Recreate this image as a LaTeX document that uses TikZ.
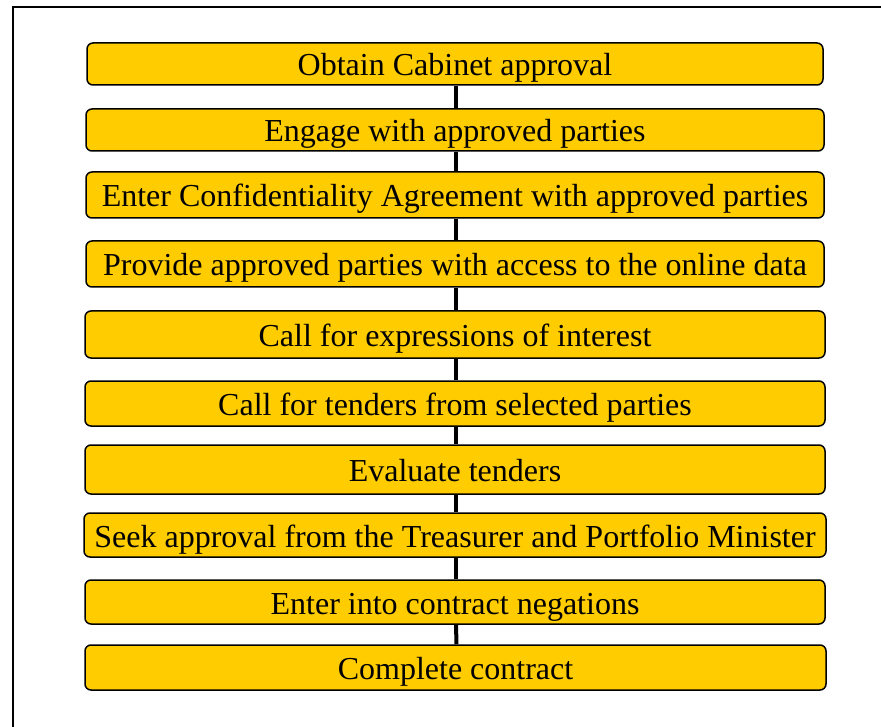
\documentclass[tikz,border=0pt]{standalone}
\usepackage{fontspec}
\setmainfont{Liberation Serif}
\definecolor{boxyellow}{RGB}{255,204,0}
\begin{document}
\begin{tikzpicture}[x=1pt,y=-1pt,
  stepbox/.style={draw=black, line width=1.5pt, fill=boxyellow, rounded corners=6pt,
    inner sep=0pt, font=\fontsize{32}{34}\selectfont, text=black,
    text height=24pt, text depth=0pt},
  link/.style={draw=black, line width=4pt}]
\useasboundingbox (0,0) rectangle (881,727);
\fill[white] (0,0) rectangle (881,727);
\draw[line width=2pt] (13,727) -- (13,7) -- (881,7);
\node[stepbox, minimum width=736pt, minimum height=42pt] (b1) at (455,64) {Obtain Cabinet approval};
\node[stepbox, minimum width=738pt, minimum height=42pt] (b2) at (455,130) {Engage with approved parties};
\node[stepbox, minimum width=738pt, minimum height=46pt] (b3) at (455,195) {Enter Confidentiality Agreement with approved parties};
\node[stepbox, minimum width=738pt, minimum height=46pt] (b4) at (455,264) {Provide approved parties with access to the online data};
\node[stepbox, minimum width=740pt, minimum height=47pt] (b5) at (455,334.5) {Call for expressions of interest};
\node[stepbox, minimum width=740pt, minimum height=45pt] (b6) at (455,403.5) {Call for tenders from selected parties};
\node[stepbox, minimum width=740pt, minimum height=49pt] (b7) at (455,469.5) {Evaluate tenders};
\node[stepbox, minimum width=742pt, minimum height=44pt] (b8) at (455,535) {Seek approval from the Treasurer and Portfolio Minister};
\node[stepbox, minimum width=740pt, minimum height=44pt] (b9) at (455,602) {Enter into contract negations};
\node[stepbox, minimum width=741pt, minimum height=45pt] (b10) at (455.5,667.5) {Complete contract};
\foreach \a/\b in {b1/b2,b2/b3,b3/b4,b4/b5,b5/b6,b6/b7,b7/b8,b8/b9,b9/b10}
  \draw[link] ([xshift=1pt]\a.south) -- ([xshift=1pt]\b.north);
\end{tikzpicture}
\end{document}
